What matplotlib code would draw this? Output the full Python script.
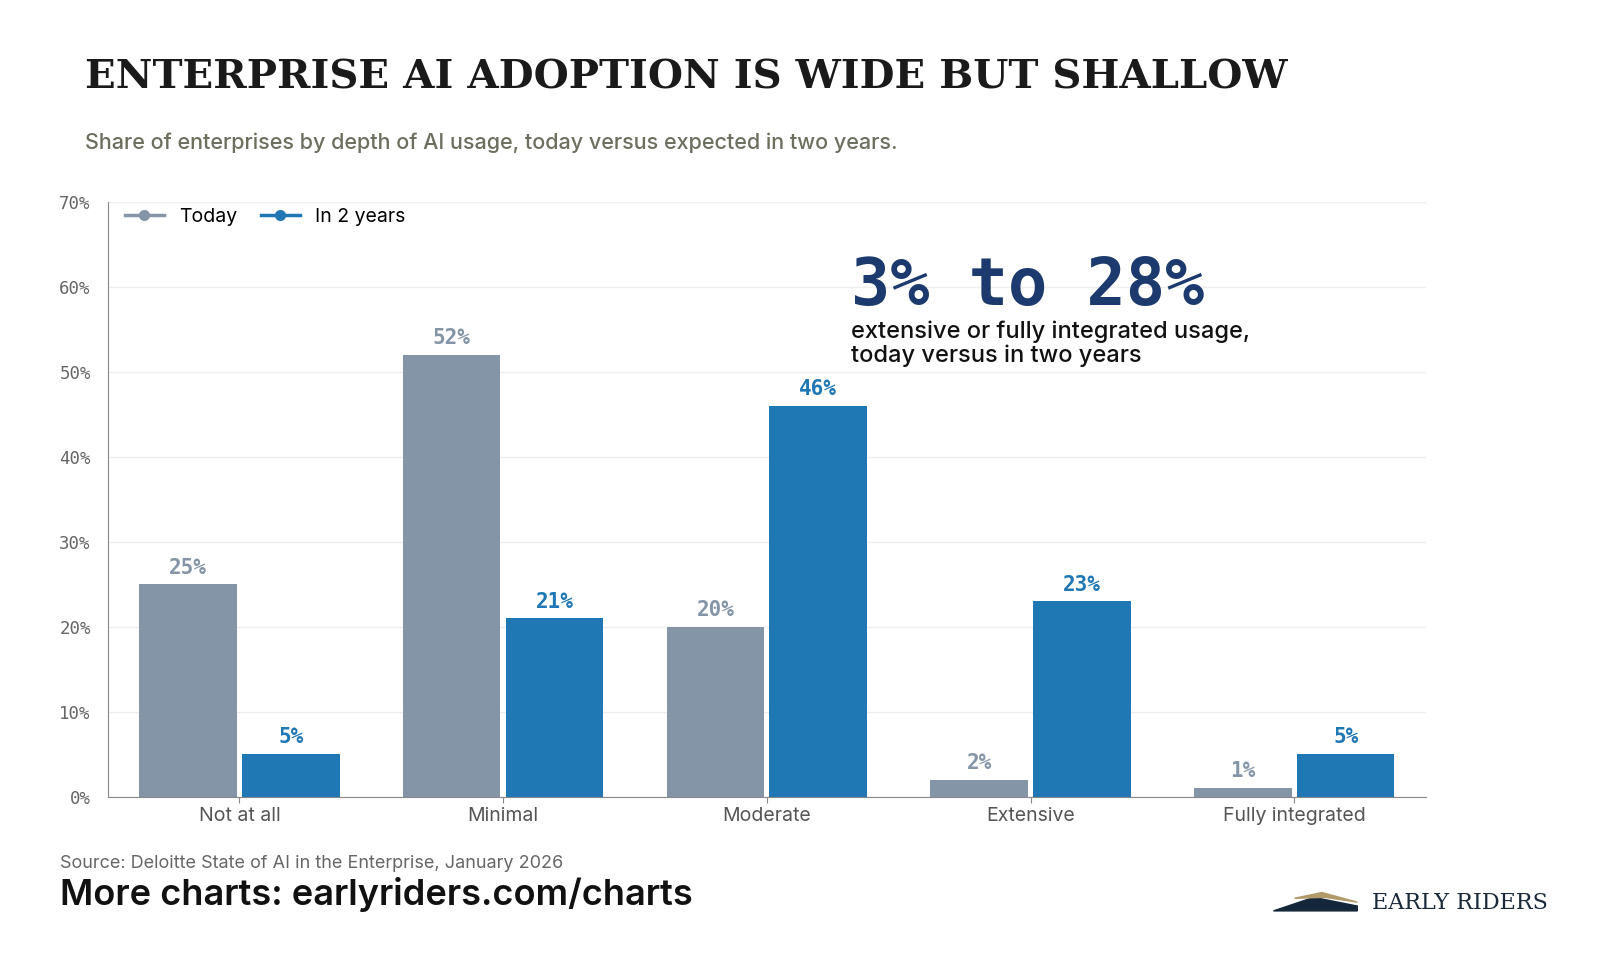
import matplotlib
matplotlib.use("Agg")
import matplotlib.pyplot as plt
import numpy as np
from matplotlib.lines import Line2D
from matplotlib.patches import Polygon

categories = ["Not at all", "Minimal", "Moderate", "Extensive", "Fully integrated"]
today = [25, 52, 20, 2, 1]
in2 = [5, 21, 46, 23, 5]
yticks = [0, 10, 20, 30, 40, 50, 60, 70]

GREY = "#8495a8"
BLUE = "#1f77b4"
fig = plt.figure(figsize=(16.12, 9.68), dpi=100)
ax = fig.add_axes([0.0667, 0.177, 0.818, 0.614])
x = np.arange(len(categories))
w = 0.37
ax.bar(x - w/2 - 0.01, today, w, color=GREY)
ax.bar(x + w/2 + 0.01, in2, w, color=BLUE)
for i in range(len(x)):
    ax.text(x[i] - w/2 - 0.01, today[i] + 0.8, f"{today[i]}%", ha="center", va="bottom",
            color=GREY, fontsize=15, fontweight="bold", family="DejaVu Sans Mono")
    ax.text(x[i] + w/2 + 0.01, in2[i] + 0.8, f"{in2[i]}%", ha="center", va="bottom",
            color=BLUE, fontsize=15, fontweight="bold", family="DejaVu Sans Mono")
ax.set_ylim(0, 70)
ax.set_xlim(-0.5, 4.5)
ax.set_yticks(yticks)
ax.set_yticklabels([f"{v}%" for v in yticks], family="DejaVu Sans Mono", fontsize=12.5, color="#666")
ax.set_xticks(x)
ax.set_xticklabels(categories, fontsize=14, color="#555", family="Inter")
ax.tick_params(axis="y", length=0, pad=12)
ax.tick_params(axis="x", length=4, color="#888")
ax.grid(axis="y", color="#eeeeee", lw=1)
ax.set_axisbelow(True)
for s in ["top", "right"]:
    ax.spines[s].set_visible(False)
ax.spines["left"].set_color("#888")
ax.spines["bottom"].set_color("#888")

handles = [Line2D([0], [0], color=GREY, marker="o", lw=2.5, markersize=7),
           Line2D([0], [0], color=BLUE, marker="o", lw=2.5, markersize=7)]
ax.legend(handles, ["Today", "In 2 years"], loc="upper left", frameon=False, ncol=2,
          prop={"family": "Inter", "size": 14}, handlelength=2, columnspacing=1.2,
          bbox_to_anchor=(0.0, 1.02))

fig.text(0.0526, 0.92, "ENTERPRISE AI ADOPTION IS WIDE BUT SHALLOW", family="DejaVu Serif",
         fontsize=29, fontweight="bold", color="#1a1a1a", va="center")
fig.text(0.0526, 0.853, "Share of enterprises by depth of AI usage, today versus expected in two years.",
         family="Inter", fontsize=15.5, color="#6b6f5e", va="center", fontweight="medium")
fig.text(0.528, 0.703, "3% to 28%", family="DejaVu Sans Mono", fontsize=47, fontweight="bold",
         color="#1c3a6e", va="center")
fig.text(0.528, 0.645, "extensive or fully integrated usage,\ntoday versus in two years",
         family="Inter", fontsize=17, color="#111", va="center", linespacing=1.1, fontweight="medium")
fig.text(0.037, 0.108, "Source: Deloitte State of AI in the Enterprise, January 2026",
         family="Inter", fontsize=13, color="#666", va="center")
fig.text(0.037, 0.076, "More charts: earlyriders.com/charts", family="Inter", fontsize=26,
         fontweight="semibold", color="#111", va="center")
fig.text(0.851, 0.067, "EARLY RIDERS", family="DejaVu Serif", fontsize=16, color="#1a2a3a", va="center")
fig.patches.append(Polygon([[0.79, 0.059], [0.815, 0.073], [0.842, 0.064], [0.842, 0.059]],
                           closed=True, transform=fig.transFigure, color="#13263a"))
fig.patches.append(Polygon([[0.803, 0.072], [0.82, 0.078], [0.842, 0.068], [0.822, 0.073]],
                           closed=True, transform=fig.transFigure, color="#b09a6a"))
fig.savefig("out.png", dpi=100, facecolor="white")
